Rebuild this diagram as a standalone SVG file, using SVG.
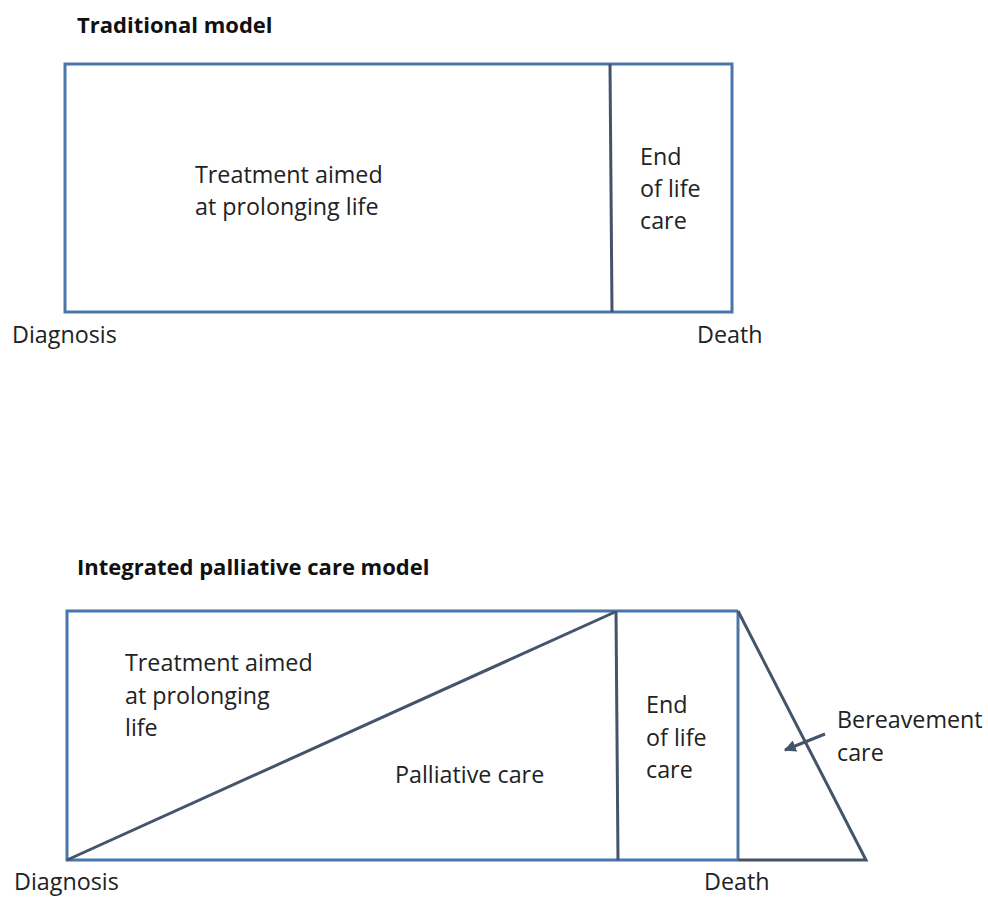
<svg xmlns="http://www.w3.org/2000/svg" width="988" height="897" viewBox="0 0 988 897">
<style>
.t{font-family:"Open Sans","Liberation Sans",sans-serif;font-size:23.3px;fill:#222}
.h{font-family:"Open Sans","Liberation Sans",sans-serif;font-size:22px;font-weight:bold;fill:#111}
.b{fill:none;stroke:#4a76a8;stroke-width:3}
.d{fill:none;stroke:#44546a;stroke-width:3}
</style>
<defs>
<marker id="ah" viewBox="0 0 10 10" refX="9" refY="5" markerWidth="4" markerHeight="4" orient="auto"><path d="M0,0L10,5L0,10z" fill="#44546a"/></marker>
</defs>
<rect width="988" height="897" fill="#fff"/>
<text class="h" x="77" y="33">Traditional model</text>
<text class="h" x="77" y="575">Integrated palliative care model</text>
<g id="traditional">
<rect class="b" x="65" y="64" width="667" height="248"/>
<line class="d" x1="610" y1="64" x2="612" y2="312"/>
<text class="t" x="195" y="183">Treatment aimed</text>
<text class="t" x="195" y="215">at prolonging life</text>
<text class="t" x="640" y="165">End</text>
<text class="t" x="640" y="197">of life</text>
<text class="t" x="640" y="229">care</text>
<text class="t" x="12" y="343">Diagnosis</text>
<text class="t" x="697" y="343">Death</text>
</g>
<g id="integrated">
<path class="b" d="M738,611 H67 V860 H617"/>
<line class="b" x1="617" y1="860" x2="738" y2="860"/>
<line class="b" x1="738" y1="611" x2="738" y2="860"/>
<line class="d" x1="67" y1="860" x2="615" y2="612"/>
<line class="d" x1="616" y1="611" x2="618" y2="860"/>
<path class="d" d="M738,611 L866,860 H738"/>
<text class="t" x="125" y="671">Treatment aimed</text>
<text class="t" x="125" y="704">at prolonging</text>
<text class="t" x="125" y="736">life</text>
<text class="t" x="395" y="783">Palliative care</text>
<text class="t" x="646" y="713">End</text>
<text class="t" x="646" y="746">of life</text>
<text class="t" x="646" y="778">care</text>
<text class="t" x="837" y="728">Bereavement</text>
<text class="t" x="837" y="761">care</text>
<text class="t" x="14" y="890">Diagnosis</text>
<text class="t" x="704" y="890">Death</text>
</g>
<g id="connectors">
<line class="d" x1="825" y1="734" x2="785" y2="750" marker-end="url(#ah)"/>
</g>
</svg>
